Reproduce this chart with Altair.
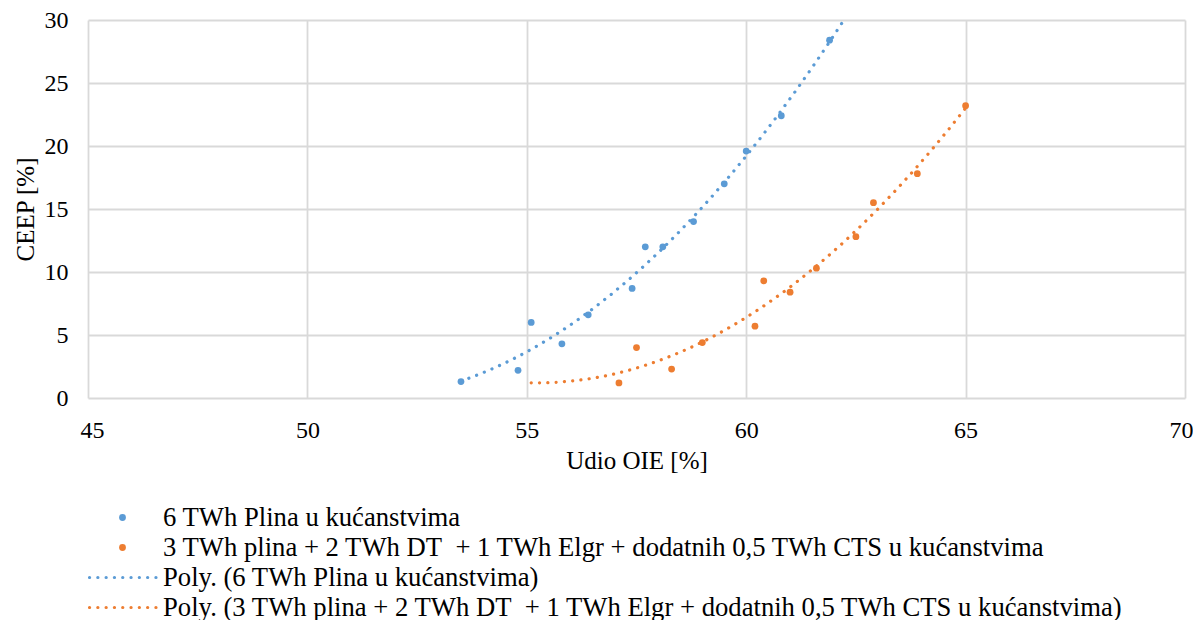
import altair as alt
import pandas as pd

FONT = "Liberation Serif"
LABEL_FS = 24
TITLE_FS = 25
LEG_FS = 26.67

s1 = "6 TWh Plina u kućanstvima"
s2 = "3 TWh plina + 2 TWh DT\u00a0 + 1 TWh Elgr + dodatnih 0,5 TWh CTS u kućanstvima"

blue_x = [53.5, 54.8, 55.1, 55.8, 56.4, 57.4, 57.7, 58.1, 58.8, 59.5, 60.0, 60.8, 61.9]
blue_y = [1.3, 2.2, 6.0, 4.3, 6.6, 8.7, 12.0, 12.0, 14.0, 17.0, 19.6, 22.4, 28.4]

orange_x = [57.1, 57.5, 58.3, 59.0, 60.2, 60.4, 61.0, 61.6, 62.5, 62.9, 63.9, 65.0]
orange_y = [1.2, 4.0, 2.3, 4.4, 5.7, 9.3, 8.4, 10.3, 12.8, 15.5, 17.8, 23.2]

series_names = [s1, s2]
series_colors = ["#5B9BD5", "#ED7D31"]
trend_extent_blue = [53.5, 63.0]
trend_extent_orange = [55.1, 65.0]

legend_labels = [s1, s2, "Poly. (" + s1 + ")", "Poly. (" + s2 + ")"]
legend_series = [s1, s2, s1, s2]
legend_kind = ["point", "point", "line", "line"]
legend_row = [0, 1, 2, 3]

df_b = pd.DataFrame({"x": blue_x, "y": blue_y, "series": s1})
df_o = pd.DataFrame({"x": orange_x, "y": orange_y, "series": s2})
df = pd.concat([df_b, df_o], ignore_index=True)

df_leg = pd.DataFrame({"label": legend_labels, "series": legend_series,
                       "kind": legend_kind, "row": legend_row})

color = alt.Color("series:N", scale=alt.Scale(domain=series_names, range=series_colors), legend=None)

xscale = alt.Scale(domain=[45, 70], nice=False, zero=False)
yscale = alt.Scale(domain=[0, 30], nice=False)

xaxis = alt.Axis(values=[45, 50, 55, 60, 65, 70], title="Udio OIE [%]", grid=True,
                 ticks=False, domain=False, labelPadding=20, labelFlush=True,
                 labelFlushOffset=8, titleY=70, titleBaseline="alphabetic")
yaxis = alt.Axis(values=[0, 5, 10, 15, 20, 25, 30], title="CEEP [%]", grid=True,
                 ticks=False, domain=False, labelPadding=20, labelFlush=False,
                 titleX=-63, titleY=189,
                 titleBaseline="middle", titleAngle=-90, titleAlign="center")

dash = [0.1, 8.2]

trend_b = alt.Chart(df_b).transform_regression(
    "x", "y", method="poly", order=2, extent=trend_extent_blue
).transform_calculate(series=f"'{s1}'").mark_line(
    strokeDash=dash, strokeCap="round", strokeWidth=3.2, clip=True
).encode(x=alt.X("x:Q", scale=xscale, axis=xaxis),
         y=alt.Y("y:Q", scale=yscale, axis=yaxis), color=color)

trend_o = alt.Chart(df_o).transform_regression(
    "x", "y", method="poly", order=2, extent=trend_extent_orange
).transform_calculate(series="'" + s2 + "'").mark_line(
    strokeDash=dash, strokeCap="round", strokeWidth=3.2, clip=True
).encode(x=alt.X("x:Q", scale=xscale), y=alt.Y("y:Q", scale=yscale), color=color)

points = alt.Chart(df).mark_circle(size=46, opacity=1).encode(
    x=alt.X("x:Q", scale=xscale), y=alt.Y("y:Q", scale=yscale), color=color)

main = alt.layer(trend_b, trend_o, points)

lscale = alt.Scale(domain=[0, 3], range=[497.5, 587.5])
ly = alt.Y("row:Q", scale=lscale, axis=None)

leg_text = alt.Chart(df_leg).mark_text(
    align="left", baseline="middle", font=FONT, fontSize=LEG_FS, color="black"
).encode(x=alt.value(75), y=ly, text="label:N")

leg_pts = alt.Chart(df_leg).transform_filter(alt.datum.kind == "point").mark_circle(
    size=46, opacity=1).encode(x=alt.value(34.5), y=ly, color=color)

leg_lines = alt.Chart(df_leg).transform_filter(alt.datum.kind == "line").mark_rule(
    strokeDash=dash, strokeCap="round", strokeWidth=3.2
).encode(x=alt.value(1.5), x2=alt.value(69), y=ly, color=color)

legend = alt.layer(leg_lines, leg_pts, leg_text)

chart = alt.layer(main, legend).resolve_scale(y="independent").properties(
    width=1097, height=378,
    autosize=alt.AutoSizeParams(type="none"),
    padding={"left": 80, "top": 12, "right": 8, "bottom": 222},
).configure_view(strokeWidth=0).configure_axis(
    gridColor="#d9d9d9", gridWidth=1.8, labelFont=FONT, labelFontSize=LABEL_FS,
    labelColor="black", titleFont=FONT, titleFontSize=TITLE_FS, titleFontWeight="normal",
    titleColor="black"
)

chart.save("out.html", embed_options={"renderer": "svg", "actions": False})
